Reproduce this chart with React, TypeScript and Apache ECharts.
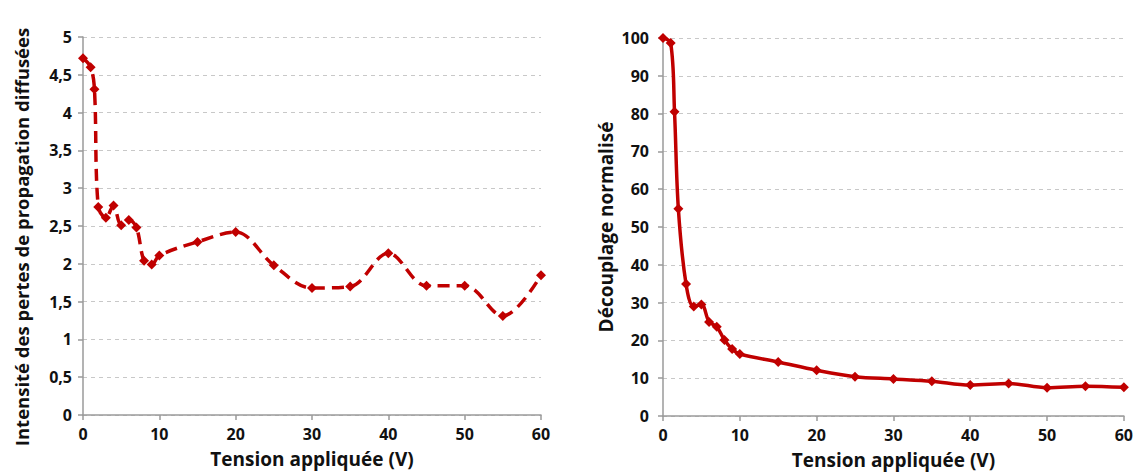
import React, { useEffect, useRef } from "react";
import * as echarts from "echarts";

const voltages = [0, 1, 1.5, 2, 3, 4, 5, 6, 7, 8, 9, 10, 15, 20, 25, 30, 35, 40, 45, 50, 55, 60];
const lossIntensity = [4.72, 4.6, 4.31, 2.75, 2.61, 2.77, 2.51, 2.58, 2.48, 2.04, 1.99, 2.11, 2.29, 2.42, 1.98, 1.68, 1.7, 2.14, 1.71, 1.71, 1.31, 1.85];
const decoupling = [100, 98.7, 80.5, 54.8, 34.9, 29.0, 29.5, 24.9, 23.6, 20.1, 17.7, 16.4, 14.3, 12.1, 10.4, 9.8, 9.2, 8.2, 8.6, 7.5, 7.9, 7.6];
const xTitle = "Tension appliquée (V)";
const leftYTitle = "Intensité des pertes de propagation diffusées";
const rightYTitle = "Découplage normalisé";

const RED = "#c00000";
const FONT = "'Open Sans'";

export default function App() {
  const ref = useRef<HTMLDivElement>(null);
  useEffect(() => {
    if (!ref.current) return;
    const chart = echarts.init(ref.current, null, { renderer: "svg" });
    const axisLineStyle = { color: "#9a9a9a", width: 1.5 };
    const labelStyle = { color: "#111", fontFamily: FONT, fontWeight: "bold" as const, fontSize: 16 };
    const xAxisBase = (gridIndex: number, gap: number) => ({
      type: "value" as const,
      gridIndex,
      min: 0,
      max: 60,
      interval: 10,
      name: xTitle,
      nameLocation: "middle" as const,
      nameGap: gap,
      nameTextStyle: { color: "#111", fontFamily: FONT, fontWeight: "bold" as const, fontSize: 19 },
      axisLine: { show: true, lineStyle: axisLineStyle },
      axisTick: { show: true, length: 5, lineStyle: axisLineStyle },
      axisLabel: { ...labelStyle, margin: 11 },
      splitLine: { show: false },
    });
    const seriesPts = (ys: number[]) => voltages.map((v, i) => [v, ys[i]]);
    chart.setOption({
      animation: false,
      backgroundColor: "#ffffff",
      grid: [
        { left: 83, top: 37, width: 458, height: 378 },
        { left: 663, top: 38, width: 462, height: 382 },
      ],
      xAxis: [xAxisBase(0, 34), xAxisBase(1, 34)],
      yAxis: [
        {
          type: "value",
          gridIndex: 0,
          min: 0,
          max: 5,
          interval: 0.5,
          axisLine: { show: true, lineStyle: axisLineStyle },
          axisTick: { show: true, length: 5, lineStyle: axisLineStyle },
          axisLabel: { ...labelStyle, margin: 11, formatter: (v: number) => String(v).replace(".", ",") },
          splitLine: { show: true, lineStyle: { color: "#c8c8c8", type: [4, 4], width: 1 } },
        },
        {
          type: "value",
          gridIndex: 1,
          min: 0,
          max: 100,
          interval: 10,
          axisLine: { show: true, lineStyle: axisLineStyle },
          axisTick: { show: true, length: 5, lineStyle: axisLineStyle },
          axisLabel: { ...labelStyle, margin: 14 },
          splitLine: { show: true, lineStyle: { color: "#c8c8c8", type: [4, 4], width: 1 } },
        },
      ],
      graphic: [
        {
          type: "text",
          x: 21,
          y: 237,
          rotation: Math.PI / 2,
          style: {
            text: leftYTitle,
            fill: "#111",
            font: `bold 18.5px ${FONT}`,
            align: "center",
            verticalAlign: "middle",
          },
        },
        {
          type: "text",
          x: 606,
          y: 227,
          rotation: Math.PI / 2,
          style: {
            text: rightYTitle,
            fill: "#111",
            font: `bold 19px ${FONT}`,
            align: "center",
            verticalAlign: "middle",
          },
        },
      ],
      series: [
        {
          type: "line",
          xAxisIndex: 0,
          yAxisIndex: 0,
          data: seriesPts(lossIntensity),
          smooth: 0.35,
          symbol: "diamond",
          symbolSize: 10,
          itemStyle: { color: RED },
          lineStyle: { color: RED, width: 3.5, type: [12, 7] },
        },
        {
          type: "line",
          xAxisIndex: 1,
          yAxisIndex: 1,
          data: seriesPts(decoupling),
          smooth: 0.35,
          symbol: "diamond",
          symbolSize: 10,
          itemStyle: { color: RED },
          lineStyle: { color: RED, width: 3.5 },
        },
      ],
    });
    return () => chart.dispose();
  }, []);
  return (
    <div
      ref={ref}
      style={{ position: "fixed", left: 0, top: 0, width: 1136, height: 474, background: "#fff" }}
    />
  );
}
